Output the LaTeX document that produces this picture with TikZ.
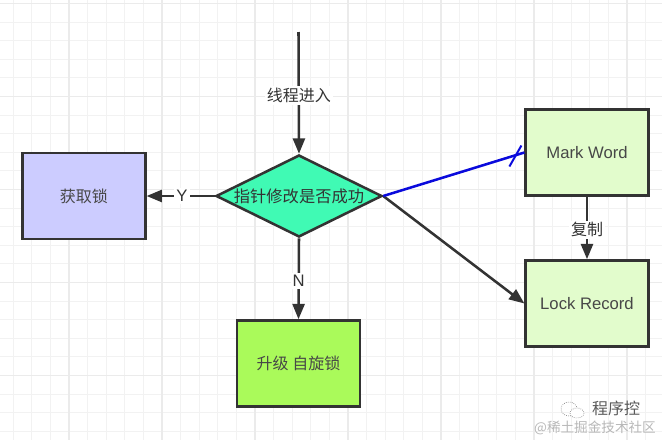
\documentclass[tikz,border=0pt]{standalone}
\usepackage{fontspec}
\setmainfont{Liberation Sans}
\newfontfamily\cjk{Noto Sans CJK SC}
\usetikzlibrary{shapes.geometric,arrows.meta}
\definecolor{ink}{HTML}{333333}
\tikzset{
  x=0.75pt,y=-0.75pt,
  gridminor/.style={draw=black!5,line width=0.75pt},
  gridmajor/.style={draw=black!8,line width=0.85pt},
  boxnode/.style={draw=ink,line width=1.9pt,minimum width=92pt,minimum height=64.5pt,inner sep=0pt,text=ink!90,font=\fontsize{12.5}{14}\selectfont},
  cjklabel/.style={fill=white,inner sep=1.5pt,text=ink,font=\cjk\fontsize{12}{14}\selectfont},
  conn/.style={draw=ink,line width=1.9pt},
  arrowconn/.style={conn,-{Triangle[length=11.5pt,width=9pt]}},
}
\begin{document}
\begin{tikzpicture}
\useasboundingbox (0,0) rectangle (662,440);
\fill[white] (0,0) rectangle (662,440);
\foreach \i in {0,...,35}{\draw[gridminor] ({13+18.6*\i},0) -- ({13+18.6*\i},440);}
\foreach \i in {0,...,23}{\draw[gridminor] (0,{3.5+18.6*\i}) -- (662,{3.5+18.6*\i});}
\foreach \i in {0,...,7}{\draw[gridmajor] ({69+93*\i},0) -- ({69+93*\i},440);}
\foreach \i in {0,...,4}{\draw[gridmajor] (0,{3.5+93*\i}) -- (662,{3.5+93*\i});}

\node[boxnode,fill={rgb,255:red,204;green,204;blue,255},font=\cjk\fontsize{12}{14}\selectfont] (get) at (84,196) {获取锁};
\node[diamond,draw=ink,line width=1.9pt,fill={rgb,255:red,64;green,250;blue,180},aspect=2,minimum width=124.5pt,minimum height=61.5pt,inner sep=0pt,text=ink,font=\cjk\fontsize{12.2}{14}\selectfont] (dia) at (299,196) {\makebox[0pt][c]{指针修改是否成功}};
\node[boxnode,fill={rgb,255:red,226;green,252;blue,204}] (mark) at (587,152.5) {Mark Word};
\node[boxnode,fill={rgb,255:red,226;green,252;blue,204}] (lock) at (587,303.5) {Lock Record};
\node[boxnode,fill={rgb,255:red,170;green,250;blue,90},font=\cjk\fontsize{12}{14}\selectfont] (spin) at (298.5,363.5) {升级 自旋锁};
\coordinate (start) at (298.5,32);

\draw[arrowconn] (start) -- (dia.north) node[cjklabel,pos=0.52] (lin) {线程进入};
\draw[arrowconn] (dia.west) -- (get.east) node[pos=0.48,fill=white,inner sep=1.5pt,text=ink,font=\fontsize{12.5}{14}\selectfont] (ly) {Y};
\draw[arrowconn] (dia.south) -- (spin.north) node[pos=0.53,fill=white,inner sep=1.5pt,text=ink,font=\fontsize{12.5}{14}\selectfont] (ln) {N};
\draw[arrowconn] (mark.south) -- (lock.north) node[cjklabel,pos=0.53] (lc) {复制};
\draw[arrowconn] (dia.east) -- (lock.west);
\draw[draw={rgb,255:red,10;green,10;blue,220},line width=1.9pt] (dia.east) -- (mark.west);
\draw[draw={rgb,255:red,10;green,10;blue,220},line width=1.5pt] ([shift={(-15,14)}]mark.west) -- ([shift={(-3,-7)}]mark.west);

\node[text=black!65,font=\cjk\fontsize{12}{14}\selectfont] (wm1) at (616,408) {程序控};
\node[text=black!28,font=\cjk\fontsize{10.2}{12}\selectfont] (wm2) at (595,428) {@稀土掘金技术社区};
\draw[black!50,line width=0.5pt,densely dotted] (569,409) ellipse (8 and 7);
\draw[black!50,line width=0.5pt,densely dotted,fill=white] (577,413) ellipse (7 and 5);
\end{tikzpicture}
\end{document}
